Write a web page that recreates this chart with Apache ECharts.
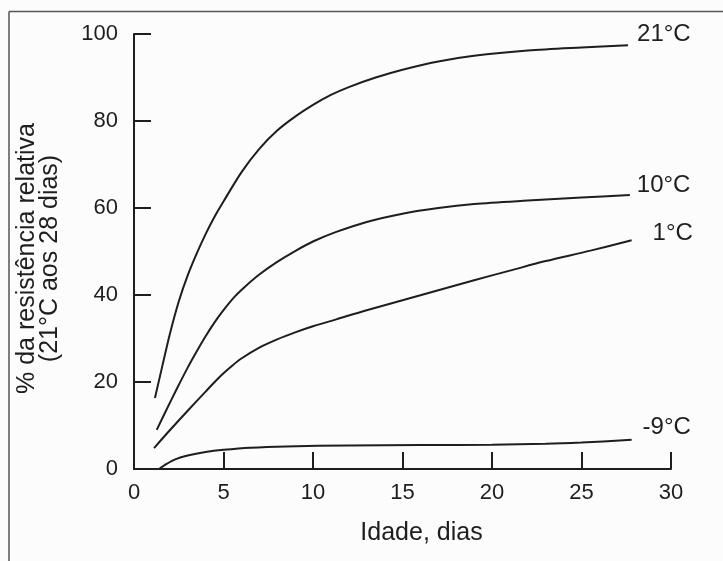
<!DOCTYPE html>
<html>
<head>
<meta charset="utf-8">
<script src="https://cdn.jsdelivr.net/npm/echarts@6/dist/echarts.min.js"></script>
<style>
html,body{margin:0;padding:0;background:#fcfcfc;}
#chart{width:723px;height:561px;}
</style>
</head>
<body>
<div id="chart"></div>
<script>
// ---- data ----
const xTicks = [0, 5, 10, 15, 20, 25, 30];
const yTicks = [0, 20, 40, 60, 80, 100];

const seriesNames = ['21°C', '10°C', '1°C', '-9°C'];

const days21 = [1.17, 1.6, 2.0, 2.5, 3.0, 3.5, 4.0, 4.5, 5.0, 6.0, 7.0, 8.0, 9.0, 10.0, 11.0, 12.0, 13.5, 15.0, 17.0, 19.0, 22.0, 25.0, 27.6];
const vals21 = [16.3, 24.0, 31.0, 38.5, 44.5, 49.5, 54.0, 58.0, 61.5, 68.2, 73.6, 77.8, 81.0, 83.7, 86.0, 87.8, 90.0, 91.8, 93.7, 95.0, 96.2, 96.9, 97.4];

const days10 = [1.27, 1.8, 2.4, 3.0, 3.5, 4.0, 4.5, 5.0, 5.6, 6.2, 7.0, 8.0, 9.0, 10.0, 11.3, 13.0, 15.0, 17.0, 19.0, 22.0, 25.0, 27.7];
const vals10 = [9.0, 13.5, 18.5, 23.3, 27.0, 30.5, 33.7, 36.5, 39.5, 41.9, 44.7, 47.6, 50.1, 52.3, 54.5, 56.8, 58.7, 60.0, 60.9, 61.7, 62.4, 63.0];

const days1 = [1.12, 2.0, 3.0, 4.0, 4.6, 5.0, 5.5, 6.0, 7.0, 8.0, 9.0, 10.0, 11.3, 13.0, 15.0, 17.0, 19.0, 21.0, 23.0, 25.5, 27.8];
const vals1 = [4.8, 8.9, 13.4, 17.8, 20.4, 22.0, 23.8, 25.4, 27.9, 29.8, 31.4, 32.8, 34.4, 36.5, 38.8, 41.1, 43.4, 45.6, 47.8, 50.2, 52.6];

const daysM9 = [1.4, 1.8, 2.3, 3.0, 4.0, 5.0, 6.5, 8.5, 12.0, 16.0, 20.0, 23.0, 25.0, 27.8];
const valsM9 = [0.0, 1.1, 2.2, 3.1, 3.9, 4.4, 4.9, 5.2, 5.4, 5.5, 5.6, 5.8, 6.1, 6.7];

const xName = 'Idade, dias';
const yName = '% da resistência relativa\n(21°C aos 28 dias)';

// ---- build ----
function pairs(xs, ys) { return xs.map((x, i) => [x, ys[i]]); }
const dataSets = [pairs(days21, vals21), pairs(days10, vals10), pairs(days1, vals1), pairs(daysM9, valsM9)];
const labelOffsets = [[9, -11], [7, -10], [21, -7], [11, -12]];

const FONT = '"Liberation Sans", Arial, Helvetica, sans-serif';
const INK = '#1e1e1e';

const chart = echarts.init(document.getElementById('chart'), null, {renderer: 'canvas'});
chart.setOption({
  backgroundColor: '#fcfcfc',
  animation: false,
  grid: {left: 134, right: 52, top: 34, bottom: 92},
  xAxis: {
    type: 'value', min: xTicks[0], max: xTicks[xTicks.length - 1], interval: 5,
    name: xName, nameLocation: 'middle', nameGap: 52,
    nameTextStyle: {fontFamily: FONT, fontSize: 25, color: INK, padding: [0, 0, 0, 38]},
    axisLine: {show: true, onZero: false, lineStyle: {color: INK, width: 2}},
    axisTick: {show: true, inside: true, length: 17, lineStyle: {color: INK, width: 2}},
    axisLabel: {fontFamily: FONT, fontSize: 22, color: INK, margin: 13},
    splitLine: {show: false}
  },
  yAxis: {
    type: 'value', min: yTicks[0], max: yTicks[yTicks.length - 1], interval: 20,
    name: yName, nameLocation: 'middle', nameGap: 72, nameRotate: 90,
    nameTextStyle: {fontFamily: FONT, fontSize: 25, color: INK, lineHeight: 23, padding: [0, 14, 0, 0]},
    axisLine: {show: true, lineStyle: {color: INK, width: 2}},
    axisTick: {show: true, inside: true, length: 17, lineStyle: {color: INK, width: 2}},
    axisLabel: {fontFamily: FONT, fontSize: 22, color: INK, margin: 16},
    splitLine: {show: false}
  },
  graphic: [
    {type: 'line', shape: {x1: 9, y1: 11.5, x2: 723, y2: 11.5}, style: {stroke: '#555', lineWidth: 1.5}},
    {type: 'line', shape: {x1: 9, y1: 11.5, x2: 9, y2: 561}, style: {stroke: '#555', lineWidth: 1.5}}
  ],
  series: seriesNames.map((name, i) => ({
    name: name,
    type: 'line',
    data: dataSets[i],
    smooth: 0.3,
    showSymbol: false,
    lineStyle: {color: INK, width: 2},
    endLabel: {
      show: true, formatter: name, distance: 0,
      offset: labelOffsets[i],
      fontFamily: FONT, fontSize: 24, color: INK
    }
  }))
});
</script>
</body>
</html>
